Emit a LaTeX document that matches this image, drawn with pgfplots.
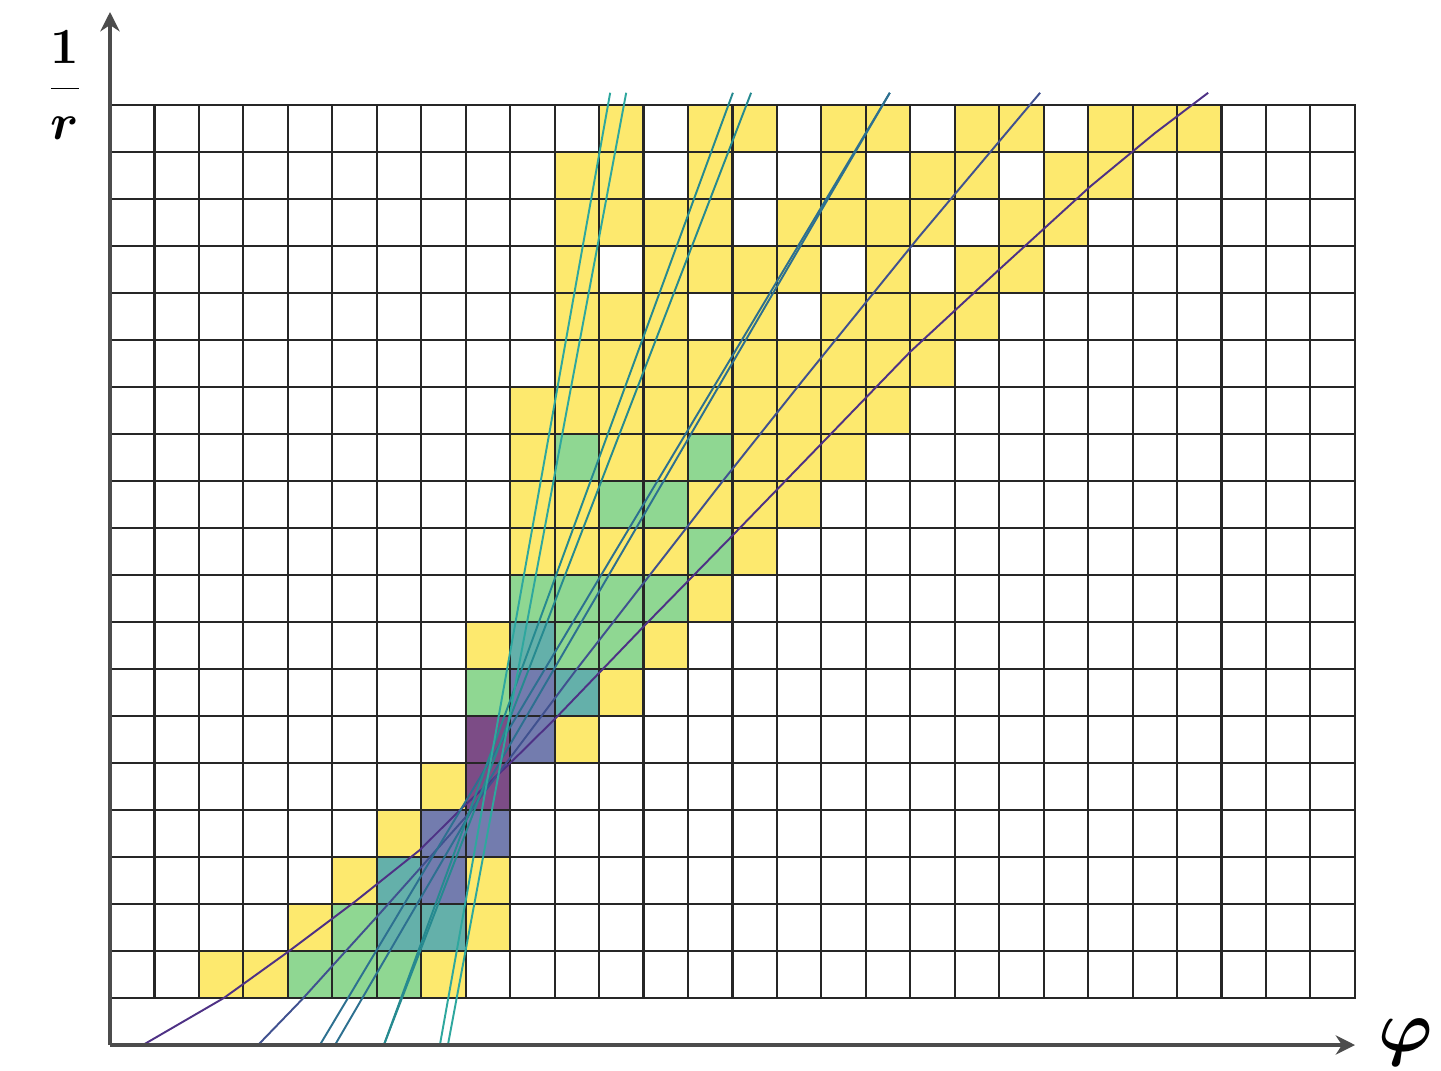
\documentclass[border=0pt]{standalone}
\usepackage{pgfplots}
\pgfplotsset{compat=1.18}
\usetikzlibrary{arrows.meta}
\definecolor{cellY}{HTML}{FDE96E}
\definecolor{cellG}{HTML}{8FD792}
\definecolor{cellT}{HTML}{64B0AA}
\definecolor{cellB}{HTML}{737CAE}
\definecolor{cellP}{HTML}{7C4C86}
\definecolor{lineA}{HTML}{4E3185}
\definecolor{lineB}{HTML}{40518F}
\definecolor{lineC}{HTML}{2D7090}
\definecolor{lineD}{HTML}{268A90}
\definecolor{lineE}{HTML}{2EA79E}
\pgfplotsset{
  celly/.style={draw=none, fill=cellY, forget plot},
  cellg/.style={draw=none, fill=cellG, forget plot},
  cellt/.style={draw=none, fill=cellT, forget plot},
  cellb/.style={draw=none, fill=cellB, forget plot},
  cellp/.style={draw=none, fill=cellP, forget plot},
  gridl/.style={draw=black!85, line width=0.6pt, forget plot},
  hcurve/.style={line width=0.55pt, forget plot},
}
\begin{document}
\begin{tikzpicture}
\begin{axis}[at={(0cm,0cm)}, anchor=south west, scale only axis, width=14.41cm, height=10.70cm,
  xmin=-2.474, xmax=29.937, ymin=-1.532, ymax=21.234,
  hide axis, clip=false]
\addplot[celly] coordinates {(11,18) (12,18) (12,19) (11,19)};
\addplot[celly] coordinates {(13,18) (15,18) (15,19) (13,19)};
\addplot[celly] coordinates {(16,18) (18,18) (18,19) (16,19)};
\addplot[celly] coordinates {(19,18) (21,18) (21,19) (19,19)};
\addplot[celly] coordinates {(22,18) (25,18) (25,19) (22,19)};
\addplot[celly] coordinates {(10,17) (12,17) (12,18) (10,18)};
\addplot[celly] coordinates {(13,17) (14,17) (14,18) (13,18)};
\addplot[celly] coordinates {(16,17) (17,17) (17,18) (16,18)};
\addplot[celly] coordinates {(18,17) (20,17) (20,18) (18,18)};
\addplot[celly] coordinates {(21,17) (23,17) (23,18) (21,18)};
\addplot[celly] coordinates {(10,16) (14,16) (14,17) (10,17)};
\addplot[celly] coordinates {(15,16) (19,16) (19,17) (15,17)};
\addplot[celly] coordinates {(20,16) (22,16) (22,17) (20,17)};
\addplot[celly] coordinates {(10,15) (11,15) (11,16) (10,16)};
\addplot[celly] coordinates {(12,15) (16,15) (16,16) (12,16)};
\addplot[celly] coordinates {(17,15) (18,15) (18,16) (17,16)};
\addplot[celly] coordinates {(19,15) (21,15) (21,16) (19,16)};
\addplot[celly] coordinates {(10,14) (13,14) (13,15) (10,15)};
\addplot[celly] coordinates {(14,14) (15,14) (15,15) (14,15)};
\addplot[celly] coordinates {(16,14) (20,14) (20,15) (16,15)};
\addplot[celly] coordinates {(10,13) (19,13) (19,14) (10,14)};
\addplot[celly] coordinates {(9,12) (18,12) (18,13) (9,13)};
\addplot[celly] coordinates {(9,11) (10,11) (10,12) (9,12)};
\addplot[celly] coordinates {(11,11) (13,11) (13,12) (11,12)};
\addplot[celly] coordinates {(14,11) (17,11) (17,12) (14,12)};
\addplot[celly] coordinates {(9,10) (11,10) (11,11) (9,11)};
\addplot[celly] coordinates {(13,10) (16,10) (16,11) (13,11)};
\addplot[celly] coordinates {(9,9) (13,9) (13,10) (9,10)};
\addplot[celly] coordinates {(14,9) (15,9) (15,10) (14,10)};
\addplot[celly] coordinates {(13,8) (14,8) (14,9) (13,9)};
\addplot[celly] coordinates {(8,7) (9,7) (9,8) (8,8)};
\addplot[celly] coordinates {(12,7) (13,7) (13,8) (12,8)};
\addplot[celly] coordinates {(11,6) (12,6) (12,7) (11,7)};
\addplot[celly] coordinates {(10,5) (11,5) (11,6) (10,6)};
\addplot[celly] coordinates {(7,4) (8,4) (8,5) (7,5)};
\addplot[celly] coordinates {(6,3) (7,3) (7,4) (6,4)};
\addplot[celly] coordinates {(5,2) (6,2) (6,3) (5,3)};
\addplot[celly] coordinates {(8,2) (9,2) (9,3) (8,3)};
\addplot[celly] coordinates {(4,1) (5,1) (5,2) (4,2)};
\addplot[celly] coordinates {(8,1) (9,1) (9,2) (8,2)};
\addplot[celly] coordinates {(2,0) (4,0) (4,1) (2,1)};
\addplot[celly] coordinates {(7,0) (8,0) (8,1) (7,1)};
\addplot[cellg] coordinates {(10,11) (11,11) (11,12) (10,12)};
\addplot[cellg] coordinates {(13,11) (14,11) (14,12) (13,12)};
\addplot[cellg] coordinates {(11,10) (13,10) (13,11) (11,11)};
\addplot[cellg] coordinates {(13,9) (14,9) (14,10) (13,10)};
\addplot[cellg] coordinates {(9,8) (13,8) (13,9) (9,9)};
\addplot[cellg] coordinates {(10,7) (12,7) (12,8) (10,8)};
\addplot[cellg] coordinates {(8,6) (9,6) (9,7) (8,7)};
\addplot[cellg] coordinates {(5,1) (6,1) (6,2) (5,2)};
\addplot[cellg] coordinates {(4,0) (7,0) (7,1) (4,1)};
\addplot[cellt] coordinates {(9,7) (10,7) (10,8) (9,8)};
\addplot[cellt] coordinates {(10,6) (11,6) (11,7) (10,7)};
\addplot[cellt] coordinates {(6,2) (7,2) (7,3) (6,3)};
\addplot[cellt] coordinates {(6,1) (8,1) (8,2) (6,2)};
\addplot[cellb] coordinates {(9,5) (10,5) (10,7) (9,7)};
\addplot[cellb] coordinates {(7,3) (9,3) (9,4) (7,4)};
\addplot[cellb] coordinates {(7,2) (8,2) (8,3) (7,3)};
\addplot[cellp] coordinates {(8,4) (9,4) (9,6) (8,6)};
\addplot[gridl] coordinates {(0,0) (0,19) (1,19) (1,0) (2,0) (2,19) (3,19) (3,0) (4,0) (4,19) (5,19) (5,0) (6,0) (6,19) (7,19) (7,0) (8,0) (8,19) (9,19) (9,0) (10,0) (10,19) (11,19) (11,0) (12,0) (12,19) (13,19) (13,0) (14,0) (14,19) (15,19) (15,0) (16,0) (16,19) (17,19) (17,0) (18,0) (18,19) (19,19) (19,0) (20,0) (20,19) (21,19) (21,0) (22,0) (22,19) (23,19) (23,0) (24,0) (24,19) (25,19) (25,0) (26,0) (26,19) (27,19) (27,0) (28,0) (28,19)};
\addplot[gridl] coordinates {(0,0) (28,0) (28,1) (0,1) (0,2) (28,2) (28,3) (0,3) (0,4) (28,4) (28,5) (0,5) (0,6) (28,6) (28,7) (0,7) (0,8) (28,8) (28,9) (0,9) (0,10) (28,10) (28,11) (0,11) (0,12) (28,12) (28,13) (0,13) (0,14) (28,14) (28,15) (0,15) (0,16) (28,16) (28,17) (0,17) (0,18) (28,18) (28,19) (0,19)};
\addplot[hcurve, draw=lineA] coordinates {(0.74,-1) (2.56,0) (4.03,1.0) (5.51,2.05) (6.97,3.15) (7.87,4.0) (8.96,4.96) (10.04,5.97) (12.07,7.97) (13.94,9.78) (16.08,11.87) (18.0,13.75) (20.0,15.5) (22.04,17.26) (23.5,18.4) (24.7,19.26)};
\addplot[hcurve, draw=lineB] coordinates {(3.33,-1) (4.31,-0.04) (6.07,1.8) (8.0,3.85) (10.5,7.0) (13.8,11.02) (15.59,13.15) (18.2,16.2) (20.92,19.26)};
\addplot[hcurve, draw=lineC] coordinates {(4.72,-1) (17.54,19.26)};
\addplot[hcurve, draw=lineC] coordinates {(5.06,-1) (17.54,19.26)};
\addplot[hcurve, draw=lineD] coordinates {(6.16,-1) (14.01,19.26)};
\addplot[hcurve, draw=lineD] coordinates {(6.16,-1) (14.42,19.26)};
\addplot[hcurve, draw=lineE] coordinates {(7.42,-1) (11.25,19.26)};
\addplot[hcurve, draw=lineE] coordinates {(7.60,-1) (11.61,19.26)};
\end{axis}
\draw[black!70, line width=0.9pt, -{Stealth[length=5.5pt,width=5.5pt]}] (1.10,0.25) -- (1.10,10.58);
\draw[black!70, line width=0.9pt, -{Stealth[length=5.5pt,width=5.5pt]}] (1.10,0.25) -- (13.55,0.25);
\node[inner sep=0pt, font=\Large\boldmath] at (0.65,9.85) {$\displaystyle{1\over r}$};
\node[inner sep=0pt, font=\huge\boldmath] at (14.06,0.28) {$\varphi$};
\pgfresetboundingbox
\path[use as bounding box] (0,0) rectangle (14.41,10.70);
\end{tikzpicture}
\end{document}
